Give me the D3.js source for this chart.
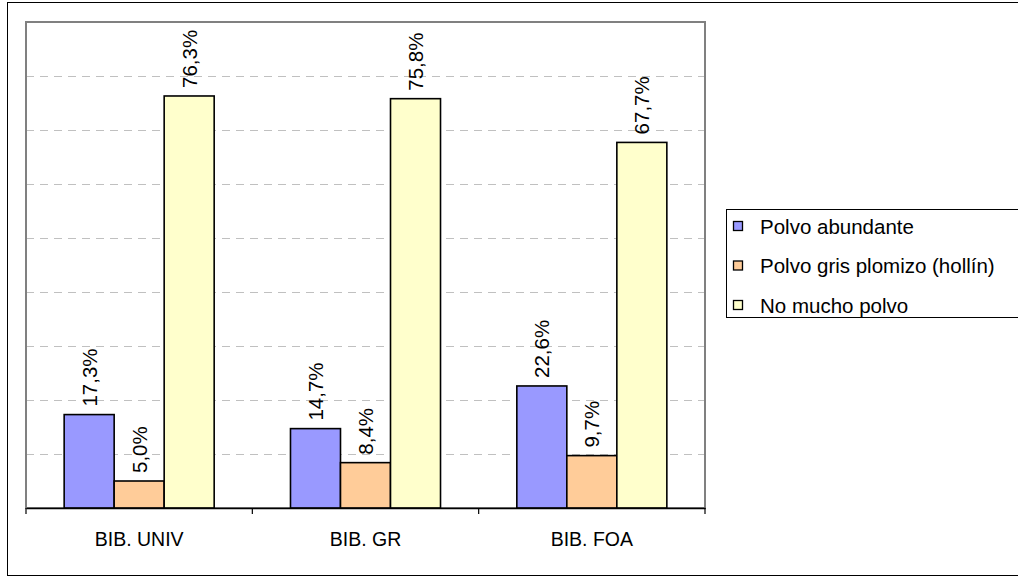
<!DOCTYPE html>
<html><head><meta charset="utf-8">
<script src="https://cdn.jsdelivr.net/npm/d3@7"></script>
<style>html,body{margin:0;padding:0;background:#fff;}svg{display:block;font-family:"Liberation Sans",Arial,sans-serif;}</style>
</head><body>
<svg id="chart" width="1018" height="578"></svg>
<script>
const categories = ["BIB. UNIV", "BIB. GR", "BIB. FOA"];
const seriesNames = ["Polvo abundante", "Polvo gris plomizo (hollín)", "No mucho polvo"];
const polvoAbundante = [17.3, 14.7, 22.6];
const polvoGris = [5.0, 8.4, 9.7];
const noMuchoPolvo = [76.3, 75.8, 67.7];
const gridTicks = [10, 20, 30, 40, 50, 60, 70, 80];
const colors = ["#9999FF", "#FFCC99", "#FFFFCC"];

const seriesValues = [polvoAbundante, polvoGris, noMuchoPolvo];
const svg = d3.select("#chart");
const plot = {left: 26, right: 705, top: 22, bottom: 508};

svg.append("rect").attr("x", 7.5).attr("y", 2.5).attr("width", 1020).attr("height", 573)
  .attr("fill", "none").attr("stroke", "#000").attr("stroke-width", 1);

const x = d3.scaleBand().domain(categories).range([plot.left, plot.right]).padding(0);
const xi = d3.scaleBand().domain(d3.range(seriesNames.length)).range([0, x.bandwidth()])
  .paddingInner(0).paddingOuter(0.763);
const y = d3.scaleLinear().domain([0, 90]).range([plot.bottom, plot.top]);

// gridlines
svg.append("g").selectAll("line").data(gridTicks).join("line")
  .attr("x1", plot.left).attr("x2", plot.right)
  .attr("y1", d => Math.round(y(d)) + 0.5).attr("y2", d => Math.round(y(d)) + 0.5)
  .attr("stroke", "#c0c0c0").attr("stroke-width", 1).attr("stroke-dasharray", "8,6");

// plot border
svg.append("rect").attr("x", plot.left).attr("y", plot.top)
  .attr("width", plot.right - plot.left).attr("height", plot.bottom - plot.top)
  .attr("fill", "none").attr("stroke", "#808080").attr("stroke-width", 2);

// bars
const groups = svg.append("g").selectAll("g").data(categories).join("g")
  .attr("transform", d => `translate(${x(d)},0)`);
groups.selectAll("rect").data((c, ci) => seriesValues.map((s, si) => ({si, v: s[ci]}))).join("rect")
  .attr("x", d => xi(d.si)).attr("width", xi.bandwidth())
  .attr("y", d => y(d.v)).attr("height", d => y(0) - y(d.v))
  .attr("fill", d => colors[d.si]).attr("stroke", "#000").attr("stroke-width", 1.6);
groups.selectAll("text").data((c, ci) => seriesValues.map((s, si) => ({si, v: s[ci]}))).join("text")
  .attr("transform", d => `translate(${xi(d.si) + xi.bandwidth() / 2},${y(d.v) - 8}) rotate(-90)`)
  .attr("dominant-baseline", "central").attr("text-anchor", "start")
  .attr("font-size", 20.5).attr("fill", "#000")
  .text(d => d.v.toFixed(1).replace(".", ",") + "%");

// x axis
const xAxis = d3.axisBottom(x).tickSize(0).tickPadding(24);
const ax = svg.append("g").attr("transform", `translate(0,${plot.bottom})`).call(xAxis);
ax.select(".domain").attr("stroke", "#000").attr("stroke-width", 1.5);
ax.selectAll("text").attr("font-size", 19.5).attr("font-family", '"Liberation Sans",Arial,sans-serif').attr("fill", "#000");
svg.append("g").selectAll("line").data(d3.range(categories.length + 1)).join("line")
  .attr("x1", i => i < categories.length ? x(categories[i]) : plot.right)
  .attr("x2", i => i < categories.length ? x(categories[i]) : plot.right)
  .attr("y1", plot.bottom).attr("y2", plot.bottom + 6)
  .attr("stroke", "#000").attr("stroke-width", 1.2);

// legend
const lg = svg.append("g");
lg.append("rect").attr("x", 726.5).attr("y", 209.5).attr("width", 300).attr("height", 108)
  .attr("fill", "#fff").attr("stroke", "#000").attr("stroke-width", 1);
const li = lg.selectAll("g").data(seriesNames).join("g")
  .attr("transform", (d, i) => `translate(733,${226 + i * 39.5})`);
li.append("rect").attr("x", 0.5).attr("y", -4.5).attr("width", 9).attr("height", 9)
  .attr("fill", (d, i) => colors[i]).attr("stroke", "#000").attr("stroke-width", 1.3);
li.append("text").attr("x", 27).attr("y", 0).attr("dominant-baseline", "central")
  .attr("font-size", 20.5).attr("fill", "#000").text(d => d);
</script>
</body></html>
